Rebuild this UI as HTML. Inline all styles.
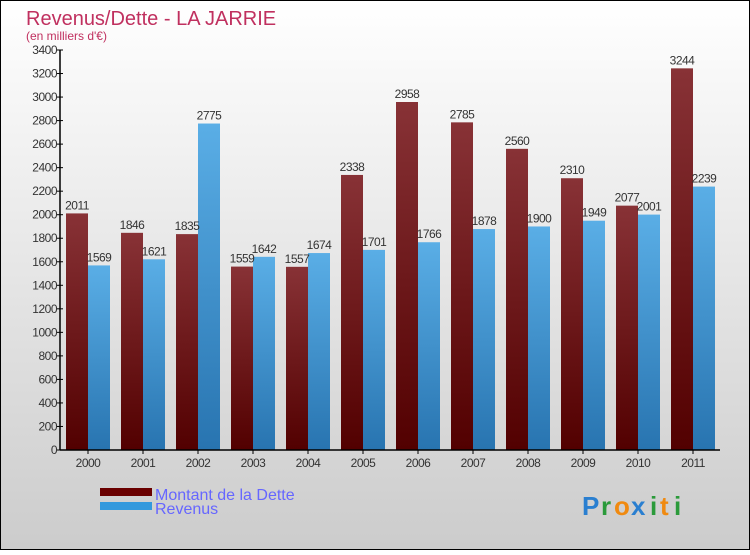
<!DOCTYPE html>
<html><head><meta charset="utf-8"><style>
html,body{margin:0;padding:0}
body{width:750px;height:550px;overflow:hidden;font-family:"Liberation Sans","DejaVu Sans",sans-serif}
</style></head><body>
<svg id="chart" width="750" height="550" xmlns="http://www.w3.org/2000/svg">
<defs>
<linearGradient id="bg" x1="0" y1="0" x2="0" y2="1"><stop offset="0" stop-color="#ffffff"/><stop offset="1" stop-color="#cccccc"/></linearGradient>
<linearGradient id="red" x1="0" y1="0" x2="0" y2="1"><stop offset="0" stop-color="#883236"/><stop offset="1" stop-color="#520000"/></linearGradient>
<linearGradient id="blue" x1="0" y1="0" x2="0" y2="1"><stop offset="0" stop-color="#5aaee6"/><stop offset="1" stop-color="#2874b0"/></linearGradient>
</defs>
<rect x="0.5" y="0.5" width="749" height="549" fill="url(#bg)" stroke="#000"/>
<text x="26" y="25" font-size="20" fill="#c0305f">Revenus/Dette - LA JARRIE</text>
<text x="26" y="40" font-size="12" fill="#c0305f">(en milliers d'€)</text>
<g id="grid"></g><g id="bars"></g><g id="axes"></g>
<rect x="100" y="488" width="52" height="8" fill="#6a0000"/>
<rect x="100" y="502" width="52" height="8" fill="#3399dd"/>
<text x="155" y="500" font-size="16" fill="#6666ff">Montant de la Dette</text>
<text x="155" y="514" font-size="16" fill="#6666ff">Revenus</text>
<g font-size="26" font-weight="bold">
<text x="582" y="515" fill="#2a7fd0">P</text><text x="601" y="515" fill="#2a9a3a">r</text><text x="614" y="515" fill="#f08a10">o</text><text x="631" y="515" fill="#2a7fd0">x</text><text x="650" y="515" fill="#2a9a3a">i</text><text x="660" y="515" fill="#f08a10">t</text><text x="674" y="515" fill="#2a9a3a">i</text>
</g>
</svg>
<script>
const years=["2000","2001","2002","2003","2004","2005","2006","2007","2008","2009","2010","2011"];
const dette=[2011,1846,1835,1559,1557,2338,2958,2785,2560,2310,2077,3244];
const revenus=[1569,1621,2775,1642,1674,1701,1766,1878,1900,1949,2001,2239];
const yTicks=[0,200,400,600,800,1000,1200,1400,1600,1800,2000,2200,2400,2600,2800,3000,3200,3400];
const NS="http://www.w3.org/2000/svg";
const y0=450,yTop=50,vMax=3400,x0=60,step=55,bw=22;
const Y=v=>y0-(v/vMax)*(y0-yTop);
const X=i=>x0+6+i*step;
function mk(t,a,p){const e=document.createElementNS(NS,t);for(const k in a)e.setAttribute(k,a[k]);p.appendChild(e);return e;}
const bars=document.getElementById('bars'),axes=document.getElementById('axes');
years.forEach((yr,i)=>{
 const r=mk('rect',{x:X(i),y:Y(dette[i]),width:bw,height:y0-Y(dette[i]),fill:'url(#red)'},bars);
 
 
 const b=mk('rect',{x:X(i)+bw,y:Y(revenus[i]),width:bw,height:y0-Y(revenus[i]),fill:'url(#blue)'},bars);
 
 
 const t1=mk('text',{x:X(i)+bw/2,y:Y(dette[i])-4,'font-size':12,fill:'#333','text-anchor':'middle','letter-spacing':'-0.5'},bars);
 t1.textContent=dette[i];
 
 
 const t2=mk('text',{x:X(i)+bw*1.5,y:Y(revenus[i])-4,'font-size':12,fill:'#333','text-anchor':'middle','letter-spacing':'-0.5'},bars);
 t2.textContent=revenus[i];
 
 
 const tl=mk('text',{x:X(i)+bw,y:467,'font-size':12,fill:'#333','text-anchor':'middle','letter-spacing':'-0.5'},axes);
 tl.textContent=yr;
 
 
 mk('line',{x1:X(i)+bw,x2:X(i)+bw,y1:y0,y2:y0+4,stroke:'#000'},axes);
});
const ya=mk('line',{x1:x0,x2:x0,y1:yTop,y2:y0,stroke:'#000','stroke-width':1.5},axes);


const xa=mk('line',{x1:x0,x2:720,y1:y0,y2:y0,stroke:'#000','stroke-width':1.5},axes);


yTicks.forEach(v=>{
 mk('line',{x1:x0-3,x2:x0+3,y1:Y(v),y2:Y(v),stroke:'#000'},axes);
 const t=mk('text',{x:x0-3,y:Y(v)+4,'font-size':12,fill:'#333','text-anchor':'end','letter-spacing':'-0.5'},axes);
 t.textContent=v;
 
 
});
</script>
</body></html>
